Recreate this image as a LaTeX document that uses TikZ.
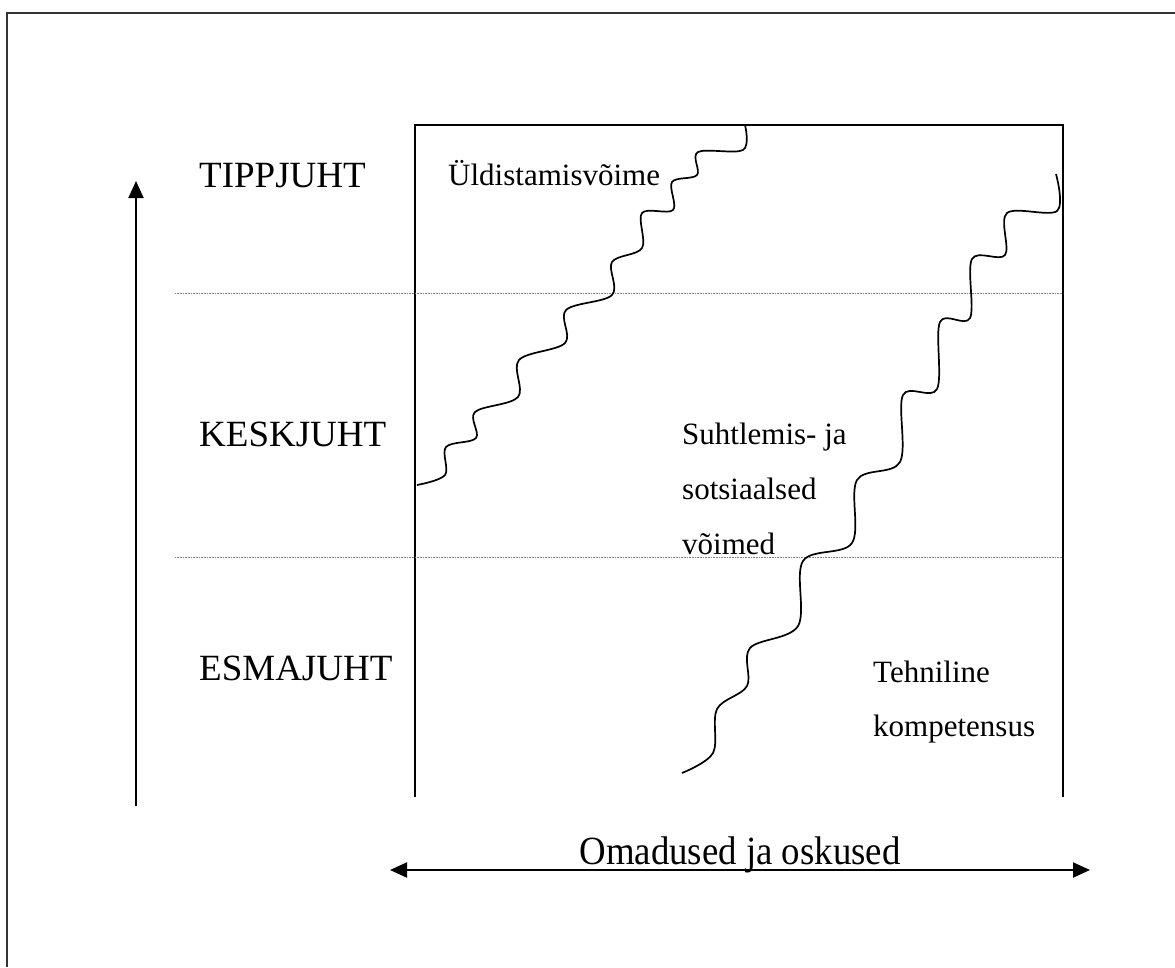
\documentclass[tikz,border=0pt]{standalone}
\usepackage{fontspec}
\setmainfont{Liberation Serif}
\usetikzlibrary{arrows.meta}
\tikzset{
  lvl/.style={anchor=base west, inner sep=0pt, font=\fontsize{37}{44}\selectfont},
  inbox/.style={anchor=base west, inner sep=0pt, font=\fontsize{31}{37}\selectfont},
  axislbl/.style={anchor=base, inner sep=0pt, font=\fontsize{40}{48}\selectfont},
  frameline/.style={line width=2pt, black!80},
  boxline/.style={line width=1.6pt, black},
  sepline/.style={line width=0.7pt, black!50, dash pattern=on 1pt off 0.6pt},
  wave/.style={line width=1.7pt, black},
  axisarrow/.style={line width=2pt, black, -{Triangle[length=17pt, width=15pt]}},
  axisarrows/.style={line width=2pt, black, {Triangle[length=17pt, width=15pt]}-{Triangle[length=17pt, width=15pt]}}
}
\begin{document}
\begin{tikzpicture}[x=1pt, y=-1pt]
\useasboundingbox (0,0) rectangle (1175,967);
% outer frame
\draw[frameline] (7,967) -- (7,13) -- (1175,13);
% inner box
\coordinate (bl) at (415,797);
\coordinate (tl) at (415,125);
\coordinate (tr) at (1063,125);
\coordinate (br) at (1063,797);
\draw[boxline] (bl) -- (tl) -- (tr) -- (br);
% separators
\coordinate (s1a) at (175,293); \coordinate (s1b) at (1063,293);
\coordinate (s2a) at (175,557); \coordinate (s2b) at (1063,557);
\draw[sepline] (s1a) -- (s1b);
\draw[sepline] (s2a) -- (s2b);
% vertical axis
\coordinate (va) at (136,806);
\coordinate (vb) at (136,181);
\draw[axisarrow] (va) -- (vb);
% horizontal axis
\coordinate (ha) at (390,870);
\coordinate (hb) at (1090,870);
\draw[axisarrows] (ha) -- (hb);
% waves
\draw[wave] plot[smooth, tension=0.55] coordinates {
(417,485) (445,475) (446,447) (476,438) (475,412) (518,397) (519,360)
(565,343) (566,310) (612,295) (612,262) (642,248) (642,213) (673,210)
(672,182) (697,175) (698,152) (743,150) (745,125)};
\draw[wave] plot[smooth, tension=0.55] coordinates {
(1056,174) (1057,211) (1007,213) (1005,255) (972,259) (970,318) (940,322)
(937,389) (903,395) (900,462) (857,480) (852,543) (803,561) (798,626)
(750,648) (747,686) (717,709) (713,753) (682,773)};
% labels
\node[lvl] (tipp) at (199,187) {TIPPJUHT};
\node[lvl] (kesk) at (199,446) {KESKJUHT};
\node[lvl] (esma) at (199,680) {ESMAJUHT};
\node[inbox] (yld) at (448,185) {Üldistamisvõime};
\node[inbox] (suh1) at (682,444) {Suhtlemis- ja};
\node[inbox] (suh2) at (682,499) {sotsiaalsed};
\node[inbox] (suh3) at (682,554) {võimed};
\node[inbox] (teh1) at (873,682) {Tehniline};
\node[inbox] (teh2) at (873,736) {kompetensus};
\node[axislbl] (oma) at (740,864) {\scalebox{0.92}[1]{Omadused ja oskused}};
\end{tikzpicture}
\end{document}
